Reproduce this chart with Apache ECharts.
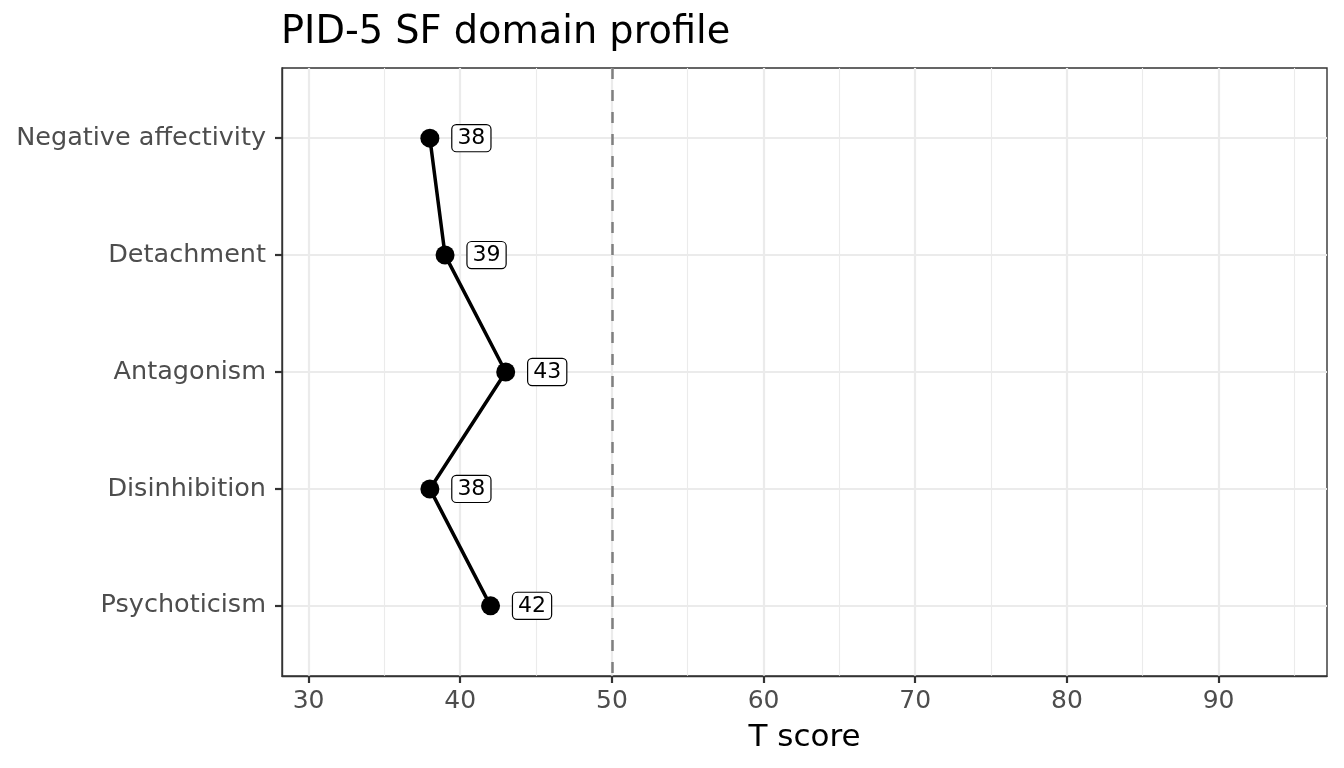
<!DOCTYPE html>
<html>
<head>
<meta charset="utf-8">
<script src="https://cdn.jsdelivr.net/npm/echarts@6/dist/echarts.min.js"></script>
<style>
  html, body { margin: 0; padding: 0; background: #fff; }
  #chart { width: 1344px; height: 768px; }
</style>
</head>
<body>
<div id="chart"></div>
<script>
// PID-5 SF domain T scores
const domains = ['Negative affectivity', 'Detachment', 'Antagonism', 'Disinhibition', 'Psychoticism']
const tScores = [38, 39, 43, 38, 42]
const xMajorTicks = [30, 40, 50, 60, 70, 80, 90]
const xMinorTicks = [35, 45, 55, 65, 75, 85, 95]
const cutoff = 50

const font = 'DejaVu Sans'
const domainIdx = domains.map((d, i) => i)
const points = tScores.map((v, i) => [v, i])

const option = {
  animation: false,
  backgroundColor: '#ffffff',
  title: {
    text: 'PID-5 SF domain profile',
    left: 276,
    top: 9,
    textStyle: { fontFamily: font, fontSize: 38.3, fontWeight: 'normal', color: '#000' }
  },
  grid: {
    left: 282, right: 17, top: 68, bottom: 92,
    show: true, borderColor: '#333333', borderWidth: 1.4,
    containLabel: false
  },
  xAxis: [{
    type: 'value',
    min: 28.25,
    max: 97.15,
    name: 'T score',
    nameLocation: 'middle',
    nameGap: 46,
    nameTextStyle: { fontFamily: font, fontSize: 31, color: '#000' },
    axisLine: { show: true, onZero: false, lineStyle: { color: '#333333', width: 1.4 } },
    axisTick: { show: true, length: 7, customValues: xMajorTicks, lineStyle: { color: '#333333', width: 2.2 } },
    axisLabel: { customValues: xMajorTicks, margin: 13, fontFamily: font, fontSize: 25, color: '#4D4D4D' },
    splitLine: { show: true, lineStyle: { color: '#EBEBEB', width: 2.2 } }
  }, {
    type: 'value',
    min: 28.25,
    max: 97.15,
    position: 'bottom',
    axisLine: { show: false },
    axisTick: { show: false, customValues: xMinorTicks },
    axisLabel: { show: false, customValues: xMinorTicks },
    splitLine: { show: true, lineStyle: { color: '#EBEBEB', width: 1.1 } }
  }],
  yAxis: {
    type: 'value',
    min: -0.6,
    max: 4.6,
    inverse: true,
    axisLine: { show: true, onZero: false, lineStyle: { color: '#333333', width: 1.4 } },
    axisTick: { show: true, length: 7, customValues: domainIdx, lineStyle: { color: '#333333', width: 2.2 } },
    axisLabel: {
      customValues: domainIdx,
      margin: 16,
      fontFamily: font, fontSize: 25.5, color: '#4D4D4D',
      padding: [3, 0, 0, 0],
      formatter: v => domains[Math.round(v)]
    },
    splitLine: { show: true, lineStyle: { color: '#EBEBEB', width: 2.2 } }
  },
  series: [{
    type: 'line',
    xAxisIndex: 0,
    data: points,
    symbol: 'circle',
    symbolSize: 19,
    lineStyle: { color: '#000', width: 3.5 },
    itemStyle: { color: '#000' },
    label: {
      show: true,
      position: 'right',
      distance: 13,
      formatter: p => p.value[0],
      fontFamily: font,
      fontSize: 22,
      lineHeight: 22,
      color: '#000',
      backgroundColor: '#fff',
      borderColor: '#000',
      borderWidth: 1.2,
      borderRadius: 4,
      padding: [2, 5, 2, 5]
    },
    markLine: {
      silent: true,
      symbol: 'none',
      label: { show: false },
      lineStyle: { color: '#7F7F7F', width: 2.5, type: [11, 11] },
      data: [{ xAxis: cutoff }]
    },
    z: 3
  }]
}

const chart = echarts.init(document.getElementById('chart'))
chart.setOption(option)
</script>
</body>
</html>
